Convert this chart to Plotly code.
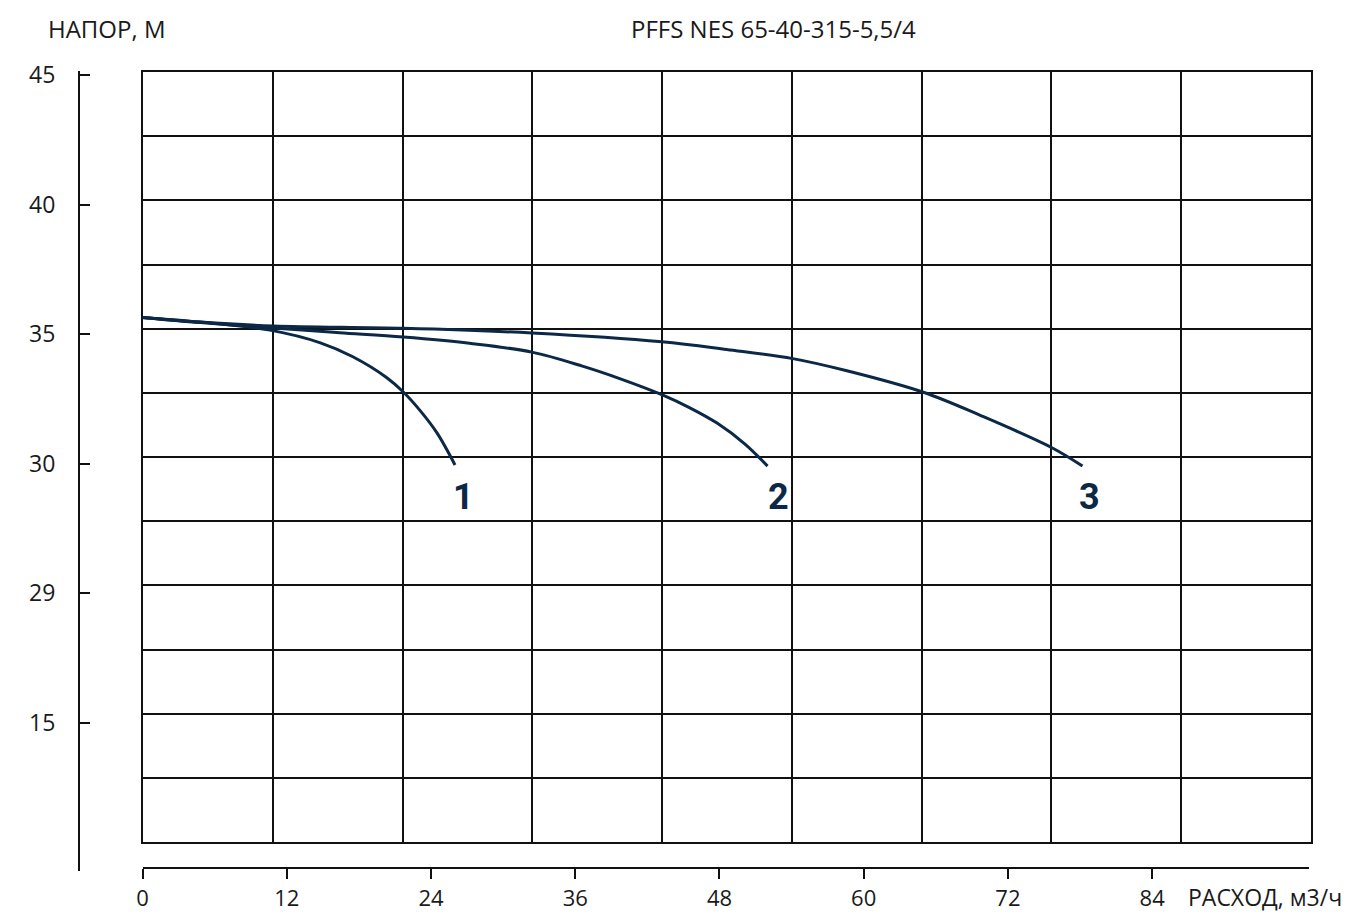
import plotly.graph_objects as go

# ---- data (flow m3/h, head m) ----
q1 = [0, 4.8, 10.6, 14.8, 17.5, 20.3, 21.7, 23.1, 24.5, 26.0]
h1 = [35.64, 35.46, 35.15, 34.66, 34.12, 33.32, 32.76, 32.04, 31.18, 29.94]

q2 = [0, 4.8, 10.9, 16.4, 21.7, 27.2, 32.4, 36.6, 39.7, 43.2, 45.5, 47.8, 50.1, 52.0]
h2 = [35.64, 35.44, 35.23, 35.05, 34.88, 34.64, 34.30, 33.76, 33.28, 32.66, 32.16, 31.56, 30.76, 29.90]

q3 = [0, 4.8, 10.9, 21.7, 32.4, 43.2, 48.6, 54.1, 58.6, 64.9, 69.7, 75.7, 78.2]
h3 = [35.64, 35.46, 35.31, 35.22, 35.04, 34.70, 34.40, 34.05, 33.58, 32.76, 31.86, 30.60, 29.90]

curve_labels = ["1", "2", "3"]
label_q = [26.7, 52.9, 78.75]
label_h = [28.70, 28.70, 28.70]

x_tickvals = [0, 12, 24, 36, 48, 60, 72, 84]
y_tickvals = [45, 40, 35, 30, 25, 20]
y_ticktext = ["45", "40", "35", "30", "29", "15"]

title_text = "PFFS NES 65-40-315-5,5/4"
y_title = "НАПОР, М"
x_title = "РАСХОД, м3/ч"

# ---- figure ----
OFF = 8  # page body margin
W, H = 1346, 906
ml, mt = 79 - OFF, 71 - OFF
pw, ph = 1232, 800
mr, mb = W - ml - pw, H - mt - ph

def px_x(p):
    return (p - OFF - ml) / pw

def px_y(p):
    return (mt + ph - (p - OFF)) / ph

LINE = "#0b2847"
AX = "#111111"
FONT = "Open Sans, Liberation Sans, sans-serif"
TXT = "#1a1a1a"

fig = go.Figure()
fig.add_trace(go.Scatter(x=[None], y=[None], xaxis="x", yaxis="y",
                         showlegend=False, hoverinfo="skip"))
for q, h in [(q1, h1), (q2, h2), (q3, h3)]:
    fig.add_trace(go.Scatter(x=q, y=h, mode="lines", xaxis="x2", yaxis="y2",
                             line=dict(color=LINE, width=3, shape="spline", smoothing=1.0),
                             showlegend=False, hoverinfo="skip"))

for t, q, h in zip(curve_labels, label_q, label_h):
    fig.add_annotation(x=q, y=h, xref="x2", yref="y2", text="<b>" + t + "</b>",
                       showarrow=False, bgcolor="white", borderpad=0,
                       font=dict(family="Roboto, Liberation Sans Narrow, sans-serif",
                                 size=36, color=LINE))

fig.add_annotation(x=px_x(46), y=px_y(28), xref="paper", yref="paper", text=y_title,
                   showarrow=False, xanchor="left", yanchor="middle",
                   font=dict(family=FONT, size=24, color=TXT))
fig.add_annotation(x=px_x(773), y=px_y(28), xref="paper", yref="paper", text=title_text,
                   showarrow=False, xanchor="center", yanchor="middle",
                   font=dict(family=FONT, size=24, color=TXT))
fig.add_annotation(x=px_x(1186), y=px_y(897), xref="paper", yref="paper", text=x_title,
                   showarrow=False, xanchor="left", yanchor="middle",
                   font=dict(family=FONT, size=23, color=TXT))

x2_left, x2_right = 142.5, 1309
x_scale = 12.02
y_top_px, y_scale = 75, 25.9

fig.update_layout(
    width=W, height=H,
    margin=dict(l=ml, r=mr, t=mt, b=mb, pad=0, autoexpand=False),
    paper_bgcolor="white", plot_bgcolor="rgba(0,0,0,0)",
    xaxis=dict(domain=[px_x(143), 1.0], range=[0, 9], tickvals=list(range(10)),
               showgrid=True, gridcolor=AX, gridwidth=2, showticklabels=False, ticks="",
               showline=True, mirror=True, linecolor=AX, linewidth=2, zeroline=False,
               anchor="y", fixedrange=True, automargin=False),
    yaxis=dict(domain=[px_y(842), px_y(72)], range=[0, 12], tickvals=list(range(13)),
               showgrid=True, gridcolor=AX, gridwidth=2, showticklabels=False, ticks="",
               showline=True, mirror=True, linecolor=AX, linewidth=2, zeroline=False,
               anchor="x", fixedrange=True, automargin=False),
    xaxis2=dict(domain=[px_x(x2_left), px_x(x2_right)],
                range=[0, (x2_right - x2_left) / x_scale],
                tickvals=x_tickvals, ticks="outside", ticklen=10, tickwidth=2, tickcolor=AX,
                showline=True, linecolor=AX, linewidth=2, showgrid=False, zeroline=False,
                anchor="free", position=px_y(868), ticklabelstandoff=1,
                tickfont=dict(family=FONT, size=22, color=TXT), fixedrange=True,
                automargin=False),
    yaxis2=dict(domain=[0, 1],
                range=[45 - (mt + ph + OFF - y_top_px) / y_scale,
                       45 + (y_top_px - mt - OFF) / y_scale],
                tickvals=y_tickvals, ticktext=y_ticktext, ticks="inside", ticklen=10,
                tickwidth=2, tickcolor=AX, showline=True, linecolor=AX, linewidth=2,
                showgrid=False, zeroline=False, anchor="free", position=0,
                ticklabelstandoff=18,
                tickfont=dict(family=FONT, size=23, color=TXT), fixedrange=True,
                automargin=False),
)

fig.write_html("out.html")
